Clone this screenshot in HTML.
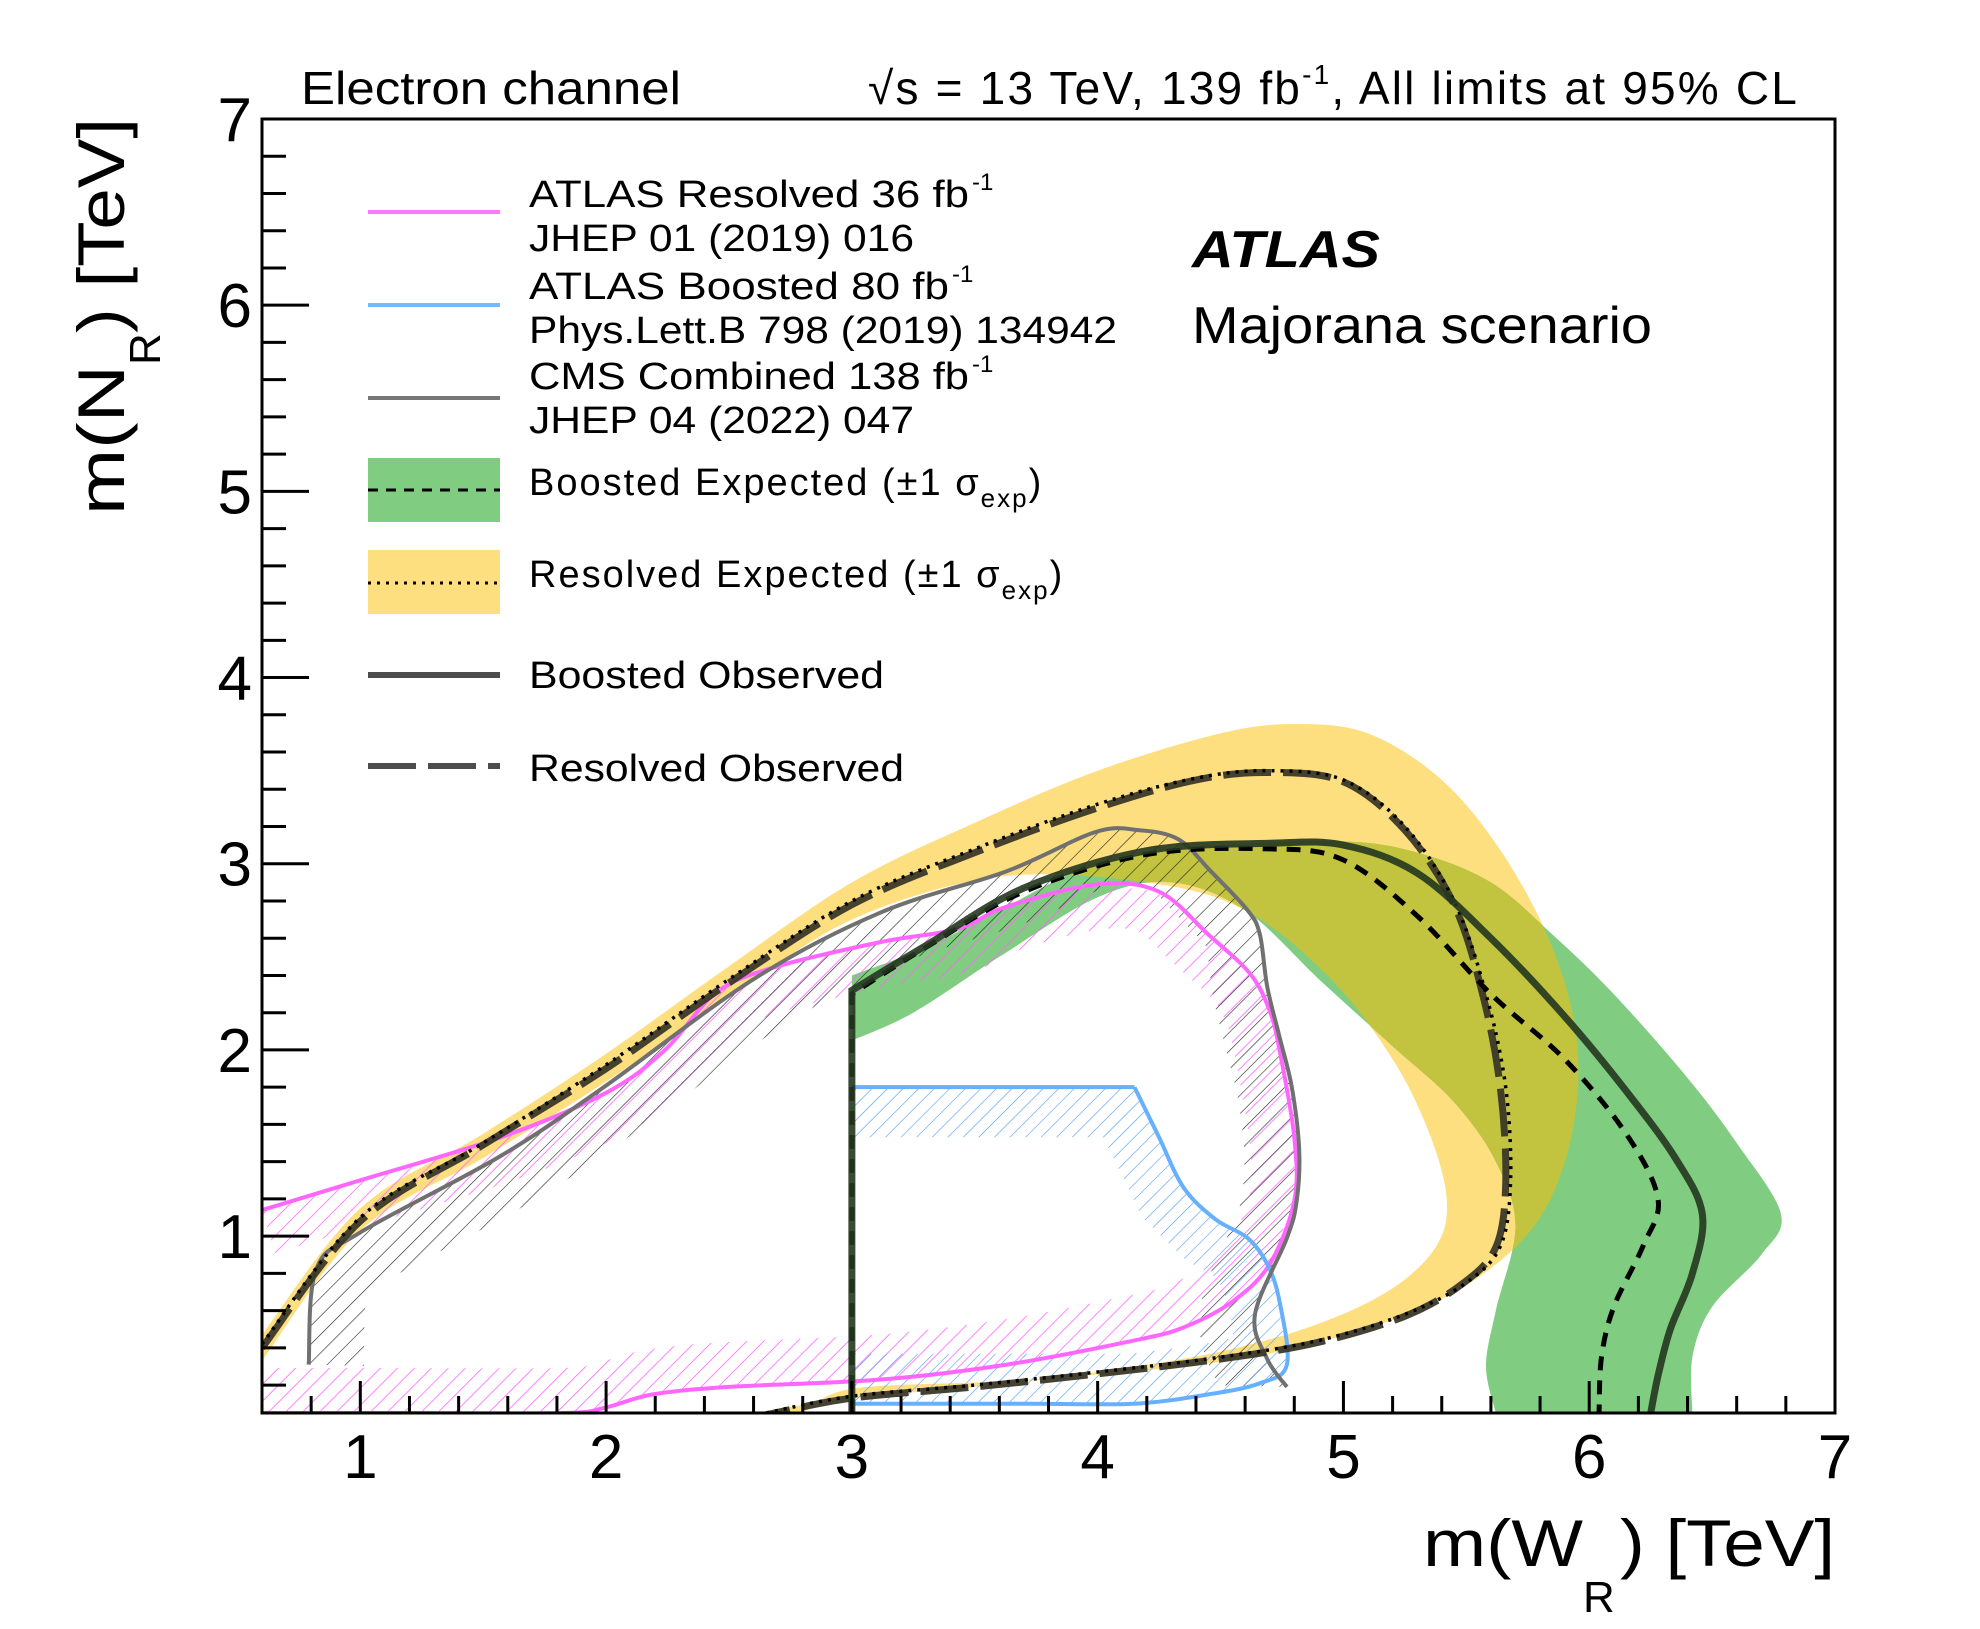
<!DOCTYPE html>
<html><head><meta charset="utf-8">
<style>
html,body{margin:0;padding:0;background:#fff;}
svg{display:block;}
text{font-family:"Liberation Sans","DejaVu Sans",sans-serif;fill:#000;}
</style></head>
<body>
<svg id="chart" width="1980" height="1629" viewBox="0 0 1980 1629" xmlns="http://www.w3.org/2000/svg">
<defs>
<pattern id="hatchMag" patternUnits="userSpaceOnUse" width="12" height="12" patternTransform="rotate(45)">
<line x1="0" y1="0" x2="0" y2="12" stroke="#ff66ff" stroke-width="1.6"/></pattern>
<pattern id="hatchBlk" patternUnits="userSpaceOnUse" width="13" height="13" patternTransform="rotate(45)">
<line x1="0" y1="0" x2="0" y2="13" stroke="#222" stroke-width="1.2"/></pattern>
<pattern id="hatchBlue" patternUnits="userSpaceOnUse" width="11" height="11" patternTransform="rotate(45)">
<line x1="0" y1="0" x2="0" y2="11" stroke="#4a9cf0" stroke-width="1.2"/></pattern>
<clipPath id="frameClip"><rect x="262" y="119" width="1573" height="1294"/></clipPath>
<clipPath id="clipMag"><path id="cpMag"/></clipPath>
<clipPath id="clipCms"><path id="cpCms"/></clipPath>
<clipPath id="clipBlue"><path id="cpBlue"/></clipPath>
<clipPath id="clipGreen"><path id="cpGreen"/></clipPath>
</defs>
<g id="plot" clip-path="url(#frameClip)"></g>
<g id="axes"></g>
<g id="legend">
  <line x1="368" y1="212" x2="500" y2="212" stroke="#ff77ff" stroke-width="4"/>
  <text x="529" y="207" font-size="38" textLength="440" lengthAdjust="spacingAndGlyphs">ATLAS Resolved 36 fb</text>
  <text x="972" y="190" font-size="24">-1</text>
  <text x="529" y="251" font-size="38" textLength="385" lengthAdjust="spacingAndGlyphs">JHEP 01 (2019) 016</text>
  <line x1="368" y1="305" x2="500" y2="305" stroke="#77b8ff" stroke-width="4"/>
  <text x="529" y="299" font-size="38" textLength="420" lengthAdjust="spacingAndGlyphs">ATLAS Boosted 80 fb</text>
  <text x="952" y="282" font-size="24">-1</text>
  <text x="529" y="343" font-size="38" textLength="588" lengthAdjust="spacingAndGlyphs">Phys.Lett.B 798 (2019) 134942</text>
  <line x1="368" y1="398" x2="500" y2="398" stroke="#777" stroke-width="4"/>
  <text x="529" y="389" font-size="38" textLength="440" lengthAdjust="spacingAndGlyphs">CMS Combined 138 fb</text>
  <text x="972" y="372" font-size="24">-1</text>
  <text x="529" y="433" font-size="38" textLength="385" lengthAdjust="spacingAndGlyphs">JHEP 04 (2022) 047</text>
  <rect x="368" y="458" width="132" height="64" fill="#80cc80"/>
  <line x1="368" y1="490" x2="500" y2="490" stroke="#000" stroke-width="3" stroke-dasharray="10,8"/>
  <text x="529" y="495" font-size="38" letter-spacing="2">Boosted Expected (±1 σ<tspan font-size="26" dy="12">exp</tspan><tspan dy="-12">)</tspan></text>
  <rect x="368" y="550" width="132" height="64" fill="#fddf80"/>
  <line x1="368" y1="583" x2="500" y2="583" stroke="#000" stroke-width="3" stroke-dasharray="3,6"/>
  <text x="529" y="587" font-size="38" letter-spacing="2">Resolved Expected (±1 σ<tspan font-size="26" dy="12">exp</tspan><tspan dy="-12">)</tspan></text>
  <line x1="368" y1="675" x2="500" y2="675" stroke="#4d4d4d" stroke-width="6"/>
  <text x="529" y="688" font-size="38" textLength="355" lengthAdjust="spacingAndGlyphs">Boosted Observed</text>
  <line x1="368" y1="766" x2="500" y2="766" stroke="#4d4d4d" stroke-width="6" stroke-dasharray="48,12"/>
  <text x="529" y="781" font-size="38" textLength="375" lengthAdjust="spacingAndGlyphs">Resolved Observed</text>
</g>
<text x="301" y="104" font-size="46" textLength="380" lengthAdjust="spacingAndGlyphs">Electron channel</text>
<text x="868" y="104" font-size="46" letter-spacing="2.2">√s = 13 TeV, 139 fb<tspan font-size="28" dy="-20">-1</tspan><tspan dy="20">, All limits at 95% CL</tspan></text>
<text x="1192" y="267" font-size="52" font-weight="bold" font-style="italic" textLength="188" lengthAdjust="spacingAndGlyphs">ATLAS</text>
<text x="1192" y="343" font-size="52" textLength="460" lengthAdjust="spacingAndGlyphs">Majorana scenario</text>
<text x="1423" y="1566" font-size="66" textLength="160" lengthAdjust="spacingAndGlyphs">m(W</text>
<text x="1583" y="1612" font-size="44">R</text>
<text x="1620" y="1566" font-size="66" textLength="215" lengthAdjust="spacingAndGlyphs">) [TeV]</text>
<g transform="translate(124,515) rotate(-90)">
<text x="0" y="0" font-size="66" textLength="150" lengthAdjust="spacingAndGlyphs">m(N</text>
<text x="150" y="36" font-size="44">R</text>
<text x="182" y="0" font-size="66" textLength="215" lengthAdjust="spacingAndGlyphs">) [TeV]</text>
</g>
</svg>
<script>
// ===== data (TeV) =====
const xTickLabels = ["1","2","3","4","5","6","7"];
const yTickLabels = ["1","2","3","4","5","6","7"];
const yellowOuterX = [0.6,1.0,1.5,2.0,2.5,3.0,3.5,4.0,4.5,4.8,5.1,5.4,5.65,5.85,5.95,5.93,5.8,5.55,5.2,4.7,4.2,3.6,3.0,2.8];
const yellowOuterY = [0.47,1.15,1.55,1.98,2.45,2.9,3.22,3.5,3.7,3.75,3.7,3.45,3.05,2.55,2.05,1.55,1.1,0.78,0.55,0.37,0.28,0.22,0.18,0.05];
const yellowInnerX = [0.6,1.0,1.5,2.0,2.5,3.0,3.6,4.2,4.6,4.95,5.2,5.35,5.42,5.38,5.2,4.9,4.5,4.0,3.5,3.0,2.6];
const yellowInnerY = [0.33,1.03,1.42,1.83,2.28,2.7,2.93,2.9,2.75,2.38,1.95,1.55,1.2,0.95,0.72,0.53,0.38,0.27,0.19,0.13,0.05];
const greenOuterX = [3.0,3.3,3.6,4.0,4.5,5.0,5.3,5.6,5.85,6.1,6.4,6.6,6.78,6.7,6.5,6.42,6.42];
const greenOuterY = [2.4,2.55,2.75,3.0,3.1,3.12,3.06,2.9,2.62,2.3,1.85,1.5,1.12,0.9,0.62,0.35,0.05];
const greenInnerX = [3.0,3.25,3.6,4.0,4.3,4.6,4.9,5.2,5.45,5.62,5.7,5.62,5.58,5.62];
const greenInnerY = [2.05,2.2,2.5,2.82,2.9,2.75,2.38,2.02,1.72,1.4,1.05,0.6,0.3,0.05];
const boostExpX = [3.0,3.0,3.3,3.7,4.2,4.7,5.0,5.3,5.6,5.9,6.15,6.28,6.22,6.1,6.05,6.04];
const boostExpY = [0.05,2.3,2.55,2.85,3.05,3.08,3.02,2.72,2.3,1.95,1.55,1.2,0.95,0.62,0.35,0.05];
const boostObsX = [3.0,3.0,3.3,3.7,4.2,4.7,5.0,5.3,5.6,5.9,6.15,6.35,6.46,6.42,6.33,6.28,6.25];
const boostObsY = [0.05,2.32,2.56,2.87,3.07,3.11,3.1,2.95,2.6,2.18,1.78,1.42,1.12,0.8,0.5,0.25,0.05];
const resExpX = [0.6,1.0,1.5,2.0,2.5,3.0,3.5,4.0,4.4,4.7,5.0,5.25,5.45,5.58,5.66,5.68,5.64,5.5,5.25,4.9,4.5,4.0,3.5,3.0,2.65];
const resExpY = [0.42,1.1,1.5,1.92,2.38,2.8,3.08,3.32,3.46,3.5,3.45,3.2,2.8,2.3,1.8,1.3,0.95,0.75,0.58,0.44,0.35,0.27,0.2,0.14,0.05];
const resObsX = [0.6,1.0,1.5,2.0,2.5,3.0,3.5,4.0,4.4,4.7,5.0,5.25,5.45,5.57,5.64,5.66,5.62,5.48,5.25,4.9,4.5,4.0,3.5,3.0,2.65];
const resObsY = [0.4,1.08,1.49,1.9,2.36,2.78,3.06,3.3,3.45,3.49,3.44,3.18,2.78,2.28,1.78,1.28,0.94,0.74,0.57,0.43,0.34,0.26,0.19,0.13,0.04];
const magX = [0.6,1.0,1.57,2.0,2.24,2.45,2.7,3.12,3.43,3.63,4.0,4.25,4.45,4.62,4.7,4.74,4.8,4.8,4.7,4.55,4.35,4.15,3.63,3.12,2.5,2.19,2.0,1.83,1.2,0.6];
const magY = [1.14,1.3,1.53,1.77,2.0,2.31,2.45,2.58,2.65,2.77,2.89,2.85,2.62,2.41,2.21,2.0,1.53,1.19,0.85,0.65,0.51,0.44,0.31,0.23,0.19,0.15,0.08,0.05,0.05,0.05];
const blueX = [3.0,4.15,4.25,4.35,4.48,4.61,4.69,4.74,4.77,4.66,4.45,4.15,3.73,3.1,3.0];
const blueY = [1.8,1.8,1.53,1.26,1.09,0.99,0.85,0.65,0.31,0.21,0.15,0.1,0.1,0.1,0.1];
const cmsX = [0.79,0.82,1.0,1.57,1.98,2.6,3.12,3.63,3.99,4.17,4.33,4.46,4.61,4.66,4.69,4.74,4.79,4.82,4.81,4.77,4.64,4.69,4.77];
const cmsY = [0.31,0.82,1.02,1.43,1.79,2.38,2.74,2.96,3.17,3.18,3.13,2.96,2.75,2.62,2.34,2.07,1.8,1.46,1.19,0.99,0.58,0.34,0.19];

// ===== axis functions =====
const X0=262, X1=1835, Y0=1413, Y1=119, XMIN=0.6, XMAX=7, YMIN=0.05, YMAX=7;
function sx(v){return X0+(v-XMIN)/(XMAX-XMIN)*(X1-X0);}
function sy(v){return Y0-(v-YMIN)/(YMAX-YMIN)*(Y0-Y1);}
function pts(xs,ys){return xs.map((x,i)=>[sx(x),sy(ys[i])]);}
function smooth(p){
  let d="M"+p[0][0].toFixed(1)+","+p[0][1].toFixed(1);
  for(let i=0;i<p.length-1;i++){
    const p0=p[i-1]||p[i],p1=p[i],p2=p[i+1],p3=p[i+2]||p2;
    const c1=[p1[0]+(p2[0]-p0[0])/6,p1[1]+(p2[1]-p0[1])/6];
    const c2=[p2[0]-(p3[0]-p1[0])/6,p2[1]-(p3[1]-p1[1])/6];
    d+="C"+c1[0].toFixed(1)+","+c1[1].toFixed(1)+" "+c2[0].toFixed(1)+","+c2[1].toFixed(1)+" "+p2[0].toFixed(1)+","+p2[1].toFixed(1);
  }
  return d;
}
const NS="http://www.w3.org/2000/svg";
const plot=document.getElementById('plot');
const axes=document.getElementById('axes');
function mk(tag,attrs,parent){const e=document.createElementNS(NS,tag);for(const k in attrs)e.setAttribute(k,attrs[k]);parent.appendChild(e);return e;}
function band(ox,oy,ix,iy){
  const o=pts(ox,oy), n=pts(ix,iy).reverse();
  return smooth(o)+smooth(n).replace(/^M/,"L")+"Z";
}
const yBand=band(yellowOuterX,yellowOuterY,yellowInnerX,yellowInnerY);
const gBand=band(greenOuterX,greenOuterY,greenInnerX,greenInnerY);
document.getElementById('cpGreen').setAttribute('d',gBand);
let e;
e=mk('path',{d:yBand,fill:'#fddf80'},plot);


e=mk('path',{d:gBand,fill:'#80cc80'},plot);


e=mk('path',{d:yBand,fill:'#c2c440','clip-path':'url(#clipGreen)'},plot);


const magP=pts(magX,magY);
const magD="M"+magP.map(p=>p[0].toFixed(1)+","+p[1].toFixed(1)).join("L");
const magS=smooth(magP);
document.getElementById('cpMag').setAttribute('d',magD+"Z");
e=mk('path',{d:magS,fill:'none',stroke:'url(#hatchMag)','stroke-width':90,'clip-path':'url(#clipMag)'},plot);


const cmsD=smooth(pts(cmsX,cmsY));
document.getElementById('cpCms').setAttribute('d',cmsD+"Z");
e=mk('path',{d:cmsD,fill:'none',stroke:'url(#hatchBlk)','stroke-width':110,'clip-path':'url(#clipCms)'},plot);


const blueP=pts(blueX,blueY);
const blueD="M"+blueP.map(p=>p[0].toFixed(1)+","+p[1].toFixed(1)).join("L");
document.getElementById('cpBlue').setAttribute('d',blueD+"Z");
e=mk('path',{d:blueD,fill:'none',stroke:'url(#hatchBlue)','stroke-width':100,'clip-path':'url(#clipBlue)'},plot);


e=mk('path',{d:magS,fill:'none',stroke:'#ff66ff','stroke-width':4},plot);


e=mk('path',{d:smooth(blueP.slice(1)),fill:'none',stroke:'#66b0ff','stroke-width':4},plot);


e=mk('path',{d:"M"+blueP[0][0]+","+blueP[0][1]+"L"+blueP[1][0]+","+blueP[1][1],fill:'none',stroke:'#66b0ff','stroke-width':4},plot);


e=mk('path',{d:cmsD,fill:'none',stroke:'#707070','stroke-width':4},plot);


e=mk('path',{d:smooth(pts(resObsX,resObsY)),fill:'none',stroke:'#3b3828','stroke-opacity':0.95,'stroke-width':7,'stroke-dasharray':'48,12'},plot);


e=mk('path',{d:smooth(pts(resExpX,resExpY)),fill:'none',stroke:'#000','stroke-width':3.5,'stroke-dasharray':'3,6'},plot);


const beP=pts(boostExpX,boostExpY);
e=mk('path',{d:"M"+beP[0].join(",")+"L"+beP[1].join(",")+smooth(beP.slice(1)).replace(/^M[^C]*/,""),fill:'none',stroke:'#000','stroke-width':5,'stroke-dasharray':'14,10'},plot);


const boP=pts(boostObsX,boostObsY);
e=mk('path',{d:"M"+boP[0].join(",")+"L"+boP[1].join(",")+smooth(boP.slice(1)).replace(/^M[^C]*/,""),fill:'none',stroke:'#23361f','stroke-opacity':0.9,'stroke-width':7},plot);


e=mk('rect',{x:X0,y:Y1,width:X1-X0,height:Y0-Y1,fill:'none',stroke:'#000','stroke-width':3},axes);


for(let v=0.6;v<=7.001;v+=0.2){
  const major=Math.abs(v-Math.round(v))<0.01;
  const x=sx(v);
  e=mk('line',{x1:x,y1:Y0,x2:x,y2:Y0-(major?32:17),stroke:'#000','stroke-width':3},axes);
  
  
}
xTickLabels.forEach(s=>{
  e=mk('text',{x:sx(+s),y:1478,'font-size':62,'text-anchor':'middle'},axes);
  e.textContent=s;
  
  
});
for(let v=0.2;v<=7.001;v+=0.2){
  if(v<YMIN)continue;
  const major=Math.abs(v-Math.round(v))<0.01;
  const y=sy(v);
  e=mk('line',{x1:X0,y1:y,x2:X0+(major?47:24),y2:y,stroke:'#000','stroke-width':3},axes);
  
  
}
yTickLabels.forEach(s=>{
  e=mk('text',{x:252,y:sy(+s)+22,'font-size':62,'text-anchor':'end'},axes);
  e.textContent=s;
  
  
});
</script>
</body></html>
